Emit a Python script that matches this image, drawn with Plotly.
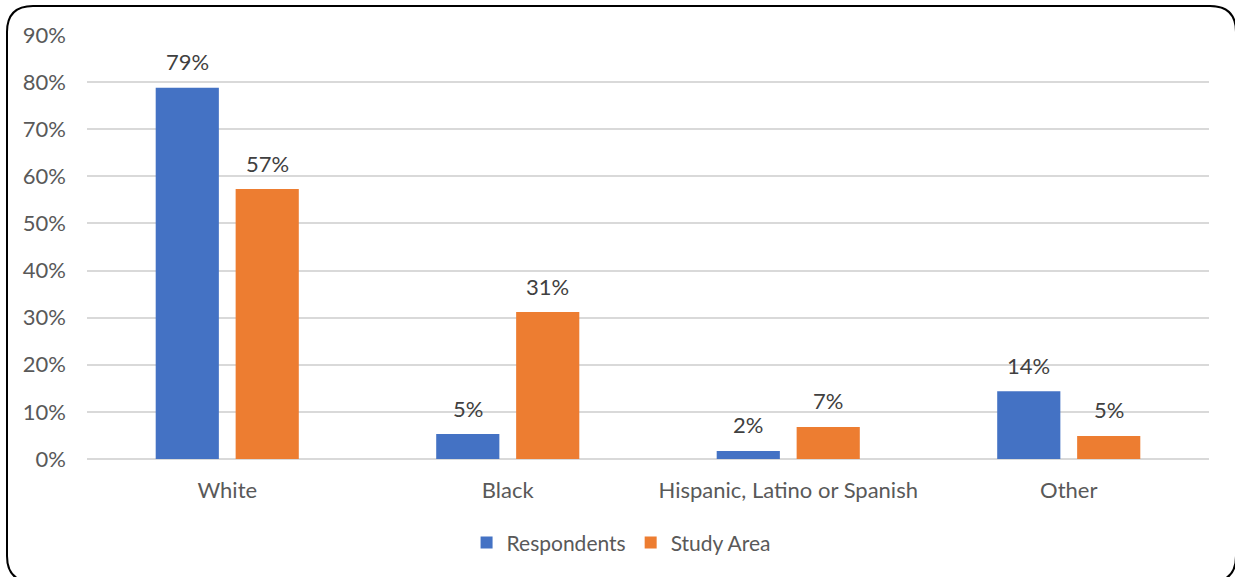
import plotly.graph_objects as go

categories = ["White", "Black", "Hispanic, Latino or Spanish", "Other"]
respondents = [78.8, 5.3, 1.7, 14.4]
study_area = [57.3, 31.2, 6.8, 4.9]
tick_vals = [0, 10, 20, 30, 40, 50, 60, 70, 80, 90]
tick_text = [f"{v}%" for v in tick_vals]

W, H = 1235, 577
ml, mr, mt, mb = 87, 26, 35, 118
pw, ph = W - ml - mr, H - mt - mb

def px(x):
    return (x - ml) / pw

def py(y):
    return (H - mb - y) / ph

FONT = "Lato"
TXT = "#595959"
LBL = "#404040"
TS = 22
NS = 22

fig = go.Figure()
fig.add_trace(go.Bar(name="Respondents", x=categories, y=respondents,
                     marker=dict(color="#4472C4", line=dict(width=0))))
fig.add_trace(go.Bar(name="Study Area", x=categories, y=study_area,
                     marker=dict(color="#ED7D31", line=dict(width=0))))

annotations = []
for vals, shift in ((respondents, -40), (study_area, 40)):
    for c, v in zip(categories, vals):
        annotations.append(dict(
            x=c, y=v, xref="x", yref="y", text=f"{round(v)}%", showarrow=False,
            xshift=shift, yshift=26, yanchor="middle",
            font=dict(family=FONT, size=NS, color=LBL)))

# rounded border
x0, x1, y0, y1, r = 7, 1236, 6, 582, 26
path = (
    f"M {px(x0 + r)} {py(y0)} L {px(x1 - r)} {py(y0)} "
    f"Q {px(x1)} {py(y0)} {px(x1)} {py(y0 + r)} "
    f"L {px(x1)} {py(y1 - r)} Q {px(x1)} {py(y1)} {px(x1 - r)} {py(y1)} "
    f"L {px(x0 + r)} {py(y1)} Q {px(x0)} {py(y1)} {px(x0)} {py(y1 - r)} "
    f"L {px(x0)} {py(y0 + r)} Q {px(x0)} {py(y0)} {px(x0 + r)} {py(y0)} Z"
)

fig.update_layout(
    width=W, height=H,
    margin=dict(l=ml, r=mr, t=mt, b=mb, autoexpand=False),
    paper_bgcolor="white", plot_bgcolor="white",
    barmode="group", bargap=0.43, bargroupgap=0.21,
    font=dict(family=FONT, color=TXT, size=TS),
    showlegend=True,
    legend=dict(orientation="h", x=0.476, xanchor="center", y=-0.198, yanchor="middle",
                font=dict(size=21, color=TXT, family=FONT), traceorder="normal",
                itemwidth=30),
    annotations=annotations,
    shapes=[dict(type="path", path=path, xref="paper", yref="paper",
                 line=dict(color="black", width=2), fillcolor="rgba(0,0,0,0)", layer="above")],
    xaxis=dict(showline=False, ticks="", tickfont=dict(size=TS, color=TXT),
               ticklabelstandoff=16),
    yaxis=dict(range=[0, 90], tickvals=tick_vals, ticktext=tick_text,
               gridcolor="#d9d9d9", gridwidth=1.5, zeroline=True, zerolinecolor="#d9d9d9",
               zerolinewidth=1.5, ticks="", tickfont=dict(size=NS, color=TXT),
               ticklabelstandoff=20),
)

fig.write_html("out.html", config={"displayModeBar": False},
               post_script="document.body.style.margin='0';document.body.style.overflow='hidden';")
